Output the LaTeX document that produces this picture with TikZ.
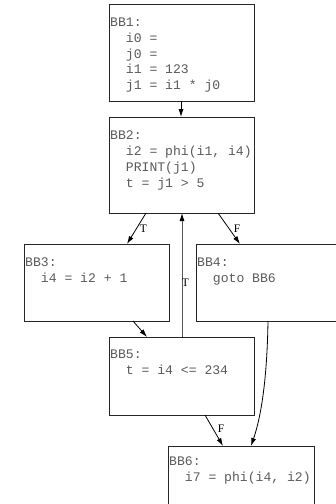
\documentclass[tikz,border=0pt]{standalone}
\usepackage{fontspec}
\setmonofont{Liberation Mono}
\newfontfamily\lblfont{Liberation Serif}
\usetikzlibrary{arrows.meta}
\definecolor{codegray}{HTML}{5A5A5A}
\tikzset{
  bbox/.style={draw=black!85, line width=0.8pt, rectangle, inner sep=0pt, anchor=north west},
  code/.style={anchor=north west, align=left, inner sep=0pt, text=codegray,
    font=\fontsize{13.1}{15.7}\selectfont\ttfamily},
  edge/.style={draw=black, line width=0.8pt, -{Latex[length=8pt,width=5pt,black]}},
  lbl/.style={font=\fontsize{11.5}{12}\selectfont\lblfont, inner sep=0pt, text=black}
}
\begin{document}
\begin{tikzpicture}[x=1pt,y=-1pt]
\clip (0,0) rectangle (336,504);
\fill[white] (0,0) rectangle (336,504);
% boxes
\node[bbox, minimum width=145pt, minimum height=97pt] (bb1) at (109,4) {};
\node[bbox, minimum width=145pt, minimum height=96pt] (bb2) at (109,117) {};
\node[bbox, minimum width=145pt, minimum height=77pt] (bb3) at (24,244) {};
\node[bbox, minimum width=141pt, minimum height=77pt] (bb4) at (196,244) {};
\node[bbox, minimum width=145pt, minimum height=78pt] (bb5) at (109,337) {};
\node[bbox, minimum width=146pt, minimum height=80pt] (bb6) at (168,446) {};
% code
\node[code] (t1) at (110,18) {BB1:\\\ \ i0 =\\\ \ j0 =\\\ \ i1 = 123\\\ \ j1 = i1 * j0};
\node[code] (t2) at (110,131) {BB2:\\\ \ i2 = phi(i1, i4)\\\ \ PRINT(j1)\\\ \ t = j1 > 5};
\node[code] (t3) at (25,258) {BB3:\\\ \ i4 = i2 + 1};
\node[code] (t4) at (197,258) {BB4:\\\ \ goto BB6};
\node[code] (t5) at (110,350) {BB5:\\\ \ t = i4 <= 234};
\node[code] (t6) at (169,457) {BB6:\\\ \ i7 = phi(i4, i2)};
% coordinates
\coordinate (c12a) at (181,101); \coordinate (c12b) at (181,117);
\coordinate (c23a) at (146,213); \coordinate (c23b) at (127,244);
\coordinate (c24a) at (218,213); \coordinate (c24b) at (240,244);
\coordinate (c35a) at (133,321); \coordinate (c35b) at (147,337);
\coordinate (c52a) at (182,337); \coordinate (c52b) at (182,213);
\coordinate (c56a) at (205,415); \coordinate (c56b) at (223,446);
\coordinate (c46a) at (268,321); \coordinate (c46b) at (251,446);
% edges
\draw[edge] (c12a) -- (c12b);
\draw[edge] (c23a) -- (c23b);
\draw[edge] (c24a) -- (c24b);
\draw[edge] (c35a) -- (c35b);
\draw[edge, draw=black!65] (c52a) -- (c52b);
\draw[edge] (c56a) -- (c56b);
\draw[edge] (c46a) .. controls (267,385) and (260,420) .. (c46b);
% labels
\node[lbl] (l1) at (143.5,229) {T};
\node[lbl] (l2) at (237,229) {F};
\node[lbl] (l3) at (185.5,283) {T};
\node[lbl] (l4) at (221,429) {F};
\end{tikzpicture}
\end{document}
